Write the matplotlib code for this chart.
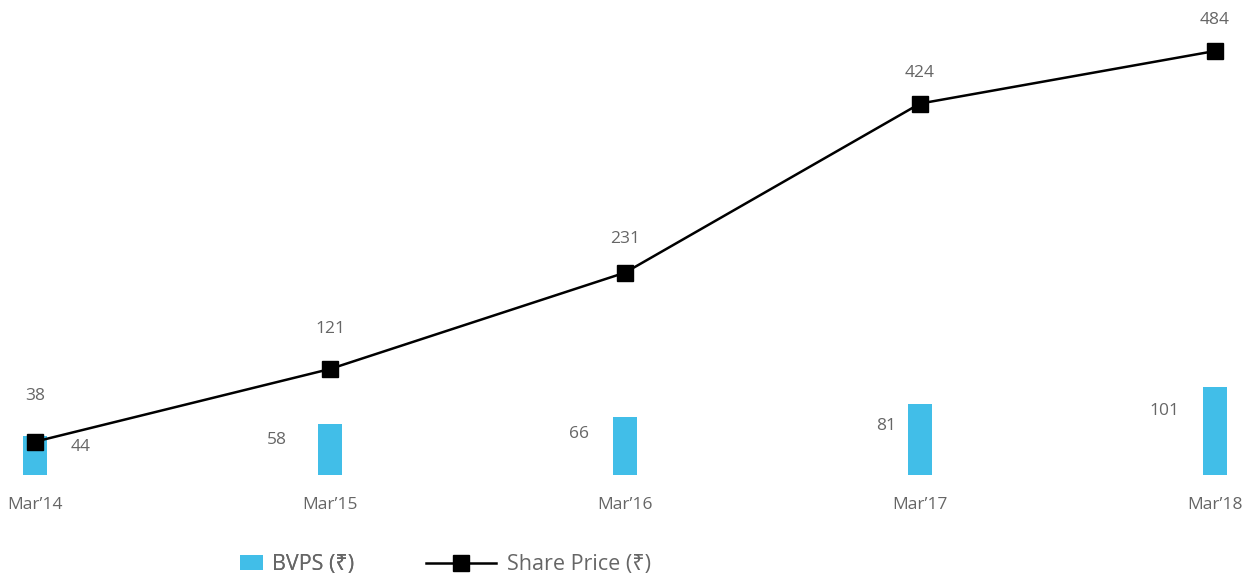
import matplotlib.pyplot as plt

# ==========================================================
# Data
# ==========================================================

years = ["Mar\u201914", "Mar\u201915", "Mar\u201916", "Mar\u201917", "Mar\u201918"]
bvps = [44, 58, 66, 81, 101]
share_price = [38, 121, 231, 424, 484]

plt.rcParams["font.family"] = ["Open Sans", "Noto Sans", "DejaVu Sans"]

TEXT = "#666666"
BAR = "#41BEE8"

# label offsets (pixels) as seen in the original
price_dy = [46, 40, 34, 31, 31]
bvps_dx = [46, -53, -46, -34, -51]
bvps_dy = [-11, -16, -17, -22, -24]

# ==========================================================
# Figure
# ==========================================================

fig = plt.figure(figsize=(12.44, 5.77), dpi=100)
ax = fig.add_axes([0, 1 - 475 / 577, 1, 475 / 577])

x = list(range(len(years)))

bars = ax.bar(x, bvps, width=0.078, color=BAR, label="BVPS (\u20b9)", zorder=2)
(line,) = ax.plot(
    x,
    share_price,
    color="black",
    linewidth=1.8,
    marker="s",
    markersize=11,
    label="Share Price (\u20b9)",
    zorder=3,
)

for xi, v, dy in zip(x, share_price, price_dy):
    ax.annotate(
        str(v),
        (xi, v),
        xytext=(0, dy * 0.72),
        textcoords="offset points",
        ha="center",
        va="center",
        fontsize=12.5,
        color=TEXT,
    )

for xi, v, dx, dy in zip(x, bvps, bvps_dx, bvps_dy):
    ax.annotate(
        str(v),
        (xi, v),
        xytext=(dx * 0.72, dy * 0.72),
        textcoords="offset points",
        ha="center",
        va="center",
        fontsize=12.5,
        color=TEXT,
    )

ax.set_xlim(-35 / 295, 4 + 29 / 295)
ax.set_ylim(0, 475 / 0.876)

ax.set_xticks(x)
ax.set_xticklabels(years, fontsize=12.5, color=TEXT)
ax.tick_params(axis="x", length=0, pad=16)
ax.set_yticks([])

for s in ax.spines.values():
    s.set_visible(False)

# ==========================================================
# Legend
# ==========================================================

leg1 = fig.legend(
    handles=[bars],
    loc="center left",
    bbox_to_anchor=(240 / 1244, 0.021),
    frameon=False,
    fontsize=15.5,
    labelcolor=TEXT,
    handlelength=1.07,
    handletextpad=0.4,
    borderpad=0,
    borderaxespad=0,
)
fig.add_artist(leg1)

fig.legend(
    handles=[line],
    loc="center left",
    bbox_to_anchor=(426 / 1244, 0.021),
    frameon=False,
    fontsize=15.5,
    labelcolor=TEXT,
    handlelength=3.25,
    handletextpad=0.5,
    borderpad=0,
    borderaxespad=0,
)

fig.savefig("out.png", dpi=100)
